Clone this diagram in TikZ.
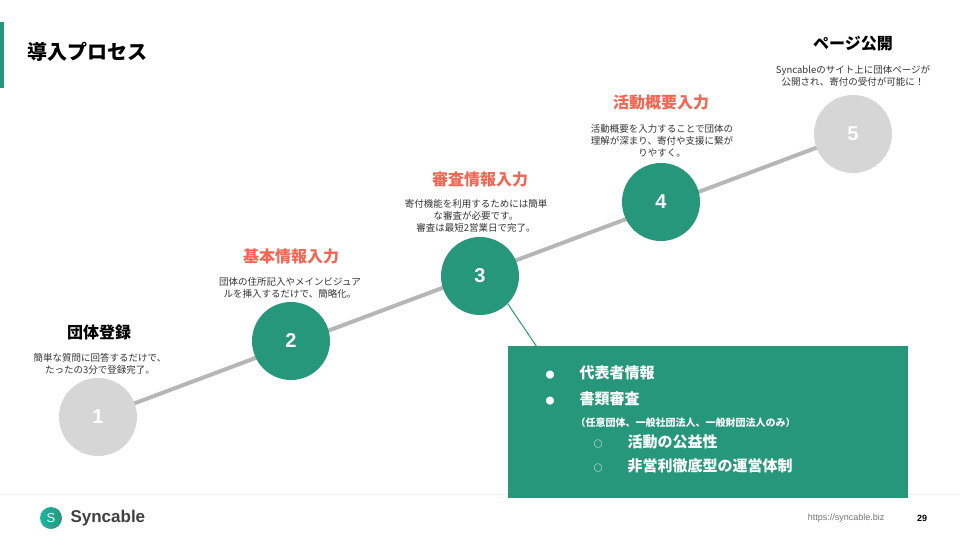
\documentclass[tikz,border=0pt]{standalone}
\usepackage{fontspec}
\setmainfont{Noto Sans CJK JP}
\newfontfamily\lat{Liberation Sans}
\definecolor{teal}{RGB}{38,151,122}
\definecolor{grayc}{RGB}{214,214,214}
\definecolor{orangec}{RGB}{240,104,84}
\newcommand{\bdot}{\makebox[34pt][l]{\fontsize{9}{9}\selectfont ●}}
\newcommand{\bcirc}{\makebox[34pt][l]{\fontsize{9}{9}\selectfont ○}}
\begin{document}
\begin{tikzpicture}[x=1pt,y=-1pt,
  circ/.style={circle,minimum size=78pt,inner sep=0pt,font=\lat\bfseries\fontsize{20}{20}\selectfont,text=white},
  ttl/.style={font=\bfseries\fontsize{16}{18}\selectfont},
  desc/.style={font=\fontsize{9.5}{12}\selectfont,align=center,text=black!80},
  bul/.style={font=\bfseries\fontsize{15}{18}\selectfont,text=white,anchor=west}]
\useasboundingbox (0,0) rectangle (960,540);
\fill[teal] (0,22) rectangle (4,88);
\node[anchor=west,font=\bfseries\fontsize{20}{22}\selectfont] (title) at (24,52) {導入プロセス};
\draw[black!6,line width=1pt] (0,494) -- (960,494);
% line
\coordinate (p1) at (98,417);
\coordinate (p5) at (853,134);
\draw[line width=4pt,grayc!85!black] (p1) -- (p5);
\node[circ,fill=grayc] (c1) at (p1) {1};
\node[circ,fill=teal] (c2) at (291,341) {2};
\node[circ,fill=teal] (c3) at (480,276) {3};
\node[circ,fill=teal] (c4) at (661,202) {4};
\node[circ,fill=grayc] (c5) at (p5) {5};
% texts
\node[ttl] (t1) at (99,332) {団体登録};
\node[desc] (d1) at (100,364) {簡単な質問に回答するだけで、\\たったの3分で登録完了。};
\node[ttl,text=orangec] (t2) at (291,256) {基本情報入力};
\node[desc] (d2) at (290,288) {団体の住所記入やメインビジュア\\ルを挿入するだけで、簡略化。};
\node[ttl,text=orangec] (t3) at (480,179) {審査情報入力};
\node[desc] (d3) at (476,216) {寄付機能を利用するためには簡単\\な審査が必要です。\\審査は最短2営業日で完了。};
\node[ttl,text=orangec] (t4) at (661,102) {活動概要入力};
\node[desc] (d4) at (662,141) {活動概要を入力することで団体の\\理解が深まり、寄付や支援に繋が\\りやすく。};
\node[ttl] (t5) at (853,44) {ページ公開};
\node[desc] (d5) at (853,76) {Syncableのサイト上に団体ページが\\公開され、寄付の受付が可能に！};
% box
\node[fill=teal,minimum width=400pt,minimum height=152pt,anchor=north west,inner sep=0pt] (box) at (508,346) {};
\coordinate (bc) at (541,353);
\draw[teal,line width=1pt] (c3.-45) -- (bc);
\node[bul] (b1) at (542,373) {\bdot 代表者情報};
\node[bul] (b2) at (542,399) {\bdot 書類審査};
\node[anchor=west,text=white,font=\bfseries\fontsize{10}{12}\selectfont] (b3) at (572,423) {（任意団体、一般社団法人、一般財団法人のみ）};
\node[bul] (b4) at (590,442) {\bcirc 活動の公益性};
\node[bul] (b5) at (590,466) {\bcirc 非営利徹底型の運営体制};
% footer
\shade[left color=teal!70!cyan,right color=teal] (51,518) circle (11);
\node[text=white,font=\lat\fontsize{13}{13}\selectfont] (lg) at (51,518) {S};
\node[anchor=west,font=\lat\bfseries\fontsize{17}{17}\selectfont,text=black!75] (sy) at (67,518) {Syncable};
\node[anchor=east,font=\lat\fontsize{9}{9}\selectfont,text=black!55] (url) at (888,518) {https://syncable.biz};
\node[font=\lat\bfseries\fontsize{9}{9}\selectfont] (pg) at (922,518) {29};
\end{tikzpicture}
\end{document}
